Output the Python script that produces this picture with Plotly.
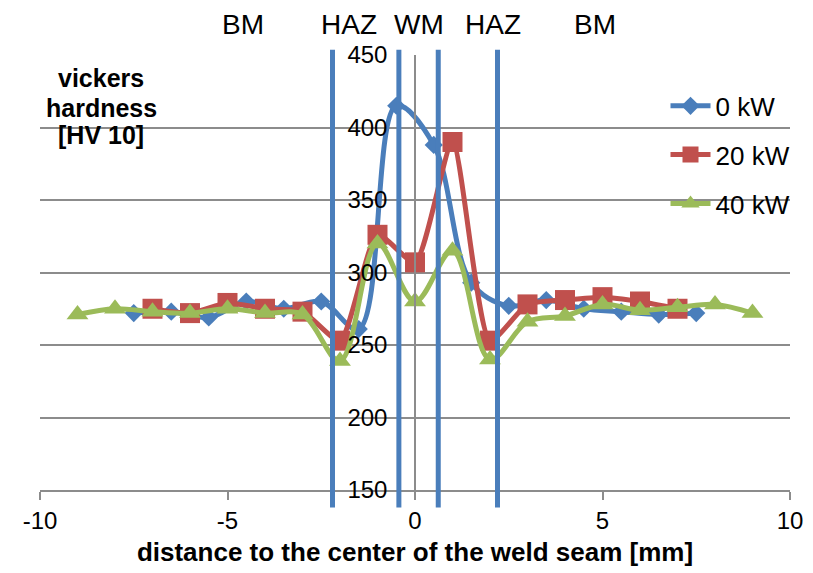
import plotly.graph_objects as go

# ---- data ----
x_0kw = [-7.5, -6.5, -5.5, -4.5, -3.5, -2.5, -1.5, -0.5, 0.5, 1.5, 2.5, 3.5, 4.5, 5.5, 6.5, 7.5]
y_0kw = [272, 273, 269, 280, 275, 280, 261, 415, 388, 293, 277, 281, 275, 273, 271, 272]

x_20kw = [-7, -6, -5, -4, -3, -2, -1, 0, 1, 2, 3, 4, 5, 6, 7]
y_20kw = [275, 272, 279, 275, 273, 253, 326, 307, 390, 253, 278, 281, 283, 280, 275]

x_40kw = [-9, -8, -7, -6, -5, -4, -3, -2, -1, 0, 1, 2, 3, 4, 5, 6, 7, 8, 9]
y_40kw = [271, 275, 273, 272, 275, 272, 271, 239, 320, 280, 315, 240, 266, 270, 278, 274, 276, 278, 272]

series_names = ["0 kW", "20 kW", "40 kW"]
zone_borders = [-2.2, -0.43, 0.62, 2.2]
zone_labels = ["BM", "HAZ", "WM", "HAZ", "BM"]
zone_label_x = [-4.6, -1.75, 0.1, 2.08, 4.8]

x_ticks = [-10, -5, 0, 5, 10]
x_ticktext = ["-10", "-5", "0", "5", "10"]
y_ticks = [150, 200, 250, 300, 350, 400, 450]

BLUE = "#4A7EBB"
RED = "#C0504D"
GREEN = "#9BBB59"
FONT = "Liberation Sans, Arial, sans-serif"

fig = go.Figure()
fig.add_trace(go.Scatter(x=x_0kw, y=y_0kw, name=series_names[0], mode="lines+markers",
                         line=dict(color=BLUE, width=5, shape="spline", smoothing=1.0),
                         marker=dict(symbol="diamond", size=14, color=BLUE),
                         legendgroup="a", cliponaxis=False))
fig.add_trace(go.Scatter(x=x_20kw, y=y_20kw, name=series_names[1], mode="lines+markers",
                         line=dict(color=RED, width=5, shape="spline", smoothing=0.6),
                         marker=dict(symbol="square", size=20, color=RED),
                         legendgroup="b", cliponaxis=False))
fig.add_trace(go.Scatter(x=x_40kw, y=y_40kw, name=series_names[2], mode="lines+markers",
                         line=dict(color=GREEN, width=5, shape="spline", smoothing=1.0),
                         marker=dict(symbol="triangle-up", size=19, color=GREEN),
                         legendgroup="c", cliponaxis=False))

for xb in zone_borders:
    fig.add_shape(type="line", xref="x", yref="paper", x0=xb, x1=xb, y0=-0.04, y1=1.012,
                  line=dict(color=BLUE, width=5), layer="above")

for lab, lx in zip(zone_labels, zone_label_x):
    fig.add_annotation(x=lx, y=1.0705, xref="x", yref="paper", text=lab, showarrow=False,
                       xanchor="center", yanchor="middle", font=dict(size=28, color="black", family=FONT))

for txt, py in [("vickers", 78), ("hardness", 108), ("[HV 10]", 135)]:
    fig.add_annotation(x=(101 - 40) / 750, y=(490 - py) / 435, xref="paper", yref="paper",
                       text="<b>%s</b>" % txt, showarrow=False, xanchor="center", yanchor="middle",
                       font=dict(size=25, color="black", family=FONT))

fig.update_layout(
    width=813, height=573,
    margin=dict(l=32, r=31, t=47, b=91),
    paper_bgcolor="white", plot_bgcolor="white",
    font=dict(family=FONT, color="black", size=24),
    showlegend=True,
    legend=dict(x=0.834, y=0.937, xanchor="left", yanchor="top", bgcolor="rgba(0,0,0,0)",
                font=dict(size=26, family=FONT), tracegroupgap=12, itemwidth=40),
    xaxis=dict(range=[-10, 10], tickvals=x_ticks, ticktext=x_ticktext, showgrid=False, zeroline=False,
               showline=True, linecolor="#8c8c8c", linewidth=1.5,
               ticks="outside", ticklen=8, tickcolor="#8c8c8c", tickwidth=1.5,
               tickfont=dict(size=24), title=dict(text="<b>distance to the center of the weld seam [mm]</b>",
                                                 font=dict(size=26), standoff=10)),
    yaxis=dict(range=[150, 450], tickvals=y_ticks, showgrid=True, gridcolor="#8c8c8c", gridwidth=1.5,
               zeroline=False, showline=True, linecolor="#8c8c8c", linewidth=1.5,
               anchor="free", position=0.5, ticks="", ticklabelstandoff=22,
               tickfont=dict(size=24)),
)

fig.write_html("out.html")
